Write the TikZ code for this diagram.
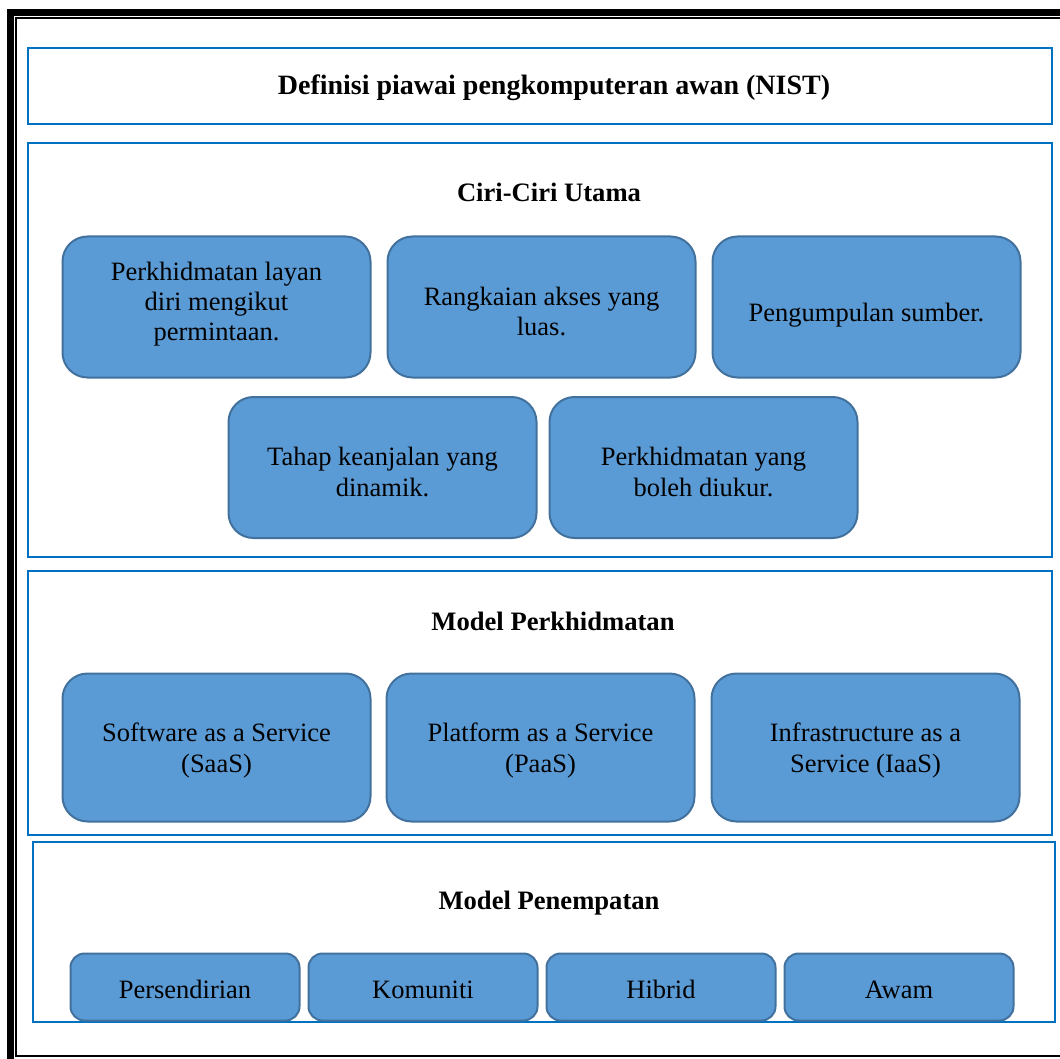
\documentclass[tikz,border=0pt]{standalone}
\usepackage{fontspec}
\setmainfont{Liberation Serif}
\usetikzlibrary{positioning}
\definecolor{frameBlue}{HTML}{0070C0}
\definecolor{boxFill}{HTML}{5B9BD5}
\definecolor{boxLine}{HTML}{41719C}

\begin{document}
\begin{tikzpicture}[x=1pt, y={(0pt,-1pt)}, font=\fontsize{26.5}{30.5}\selectfont ,
panel/.style={rectangle, draw=frameBlue, line width=2pt, minimum width=1024pt, inner sep=0pt} ,
heading/.style={font=\fontsize{26.6}{30.5}\selectfont\bfseries} ,
item/.style={rectangle, rounded corners=25pt, draw=boxLine, fill=boxFill, line width=2pt, minimum width=308pt, minimum height=141pt, align=center, inner sep=0pt, text depth=9pt, text height=37pt} ,
twoLines/.style={text height=66pt} ,
threeLines/.style={text height=77pt} ,
service/.style={item, minimum height=148pt, text height=58pt} ,
deploy/.style={item, rounded corners=14pt, minimum width=229pt, minimum height=67pt, text height=31pt}
]
\useasboundingbox (0,0) rectangle (1060,1059) ;
\clip (0,0) rectangle (1060,1059) ;

% page frame
\draw [line width=7pt] (1080,12.5) -- (10.5,12.5) -- (10.5,1080) ;
\draw [line width=2pt] (1080,18) -- (16,18) -- (16,1056) -- (1080,1056) ;

% title
\node (title-panel) [panel, minimum height=76pt] at (540,86) {} ;
\node (title) [heading, font=\fontsize{28}{32}\selectfont\bfseries] at (554,88) {Definisi piawai pengkomputeran awan (NIST)} ;

% ciri-ciri utama
\node (ciri-panel) [panel, minimum height=414pt] at (540,350) {} ;
\node (ciri) [heading] at (549,192) {Ciri-Ciri Utama} ;
\node (layan) [item, threeLines] at (216.5,307) {Perkhidmatan layan\\diri mengikut\\permintaan.} ;
\node (akses) [item, twoLines, right=15pt of layan] {Rangkaian akses yang\\luas.} ;
\node (sumber) [item, right=15pt of akses] {Pengumpulan sumber.} ;
\node (keanjalan) [item, twoLines] at (382.5,467.5) {Tahap keanjalan yang\\dinamik.} ;
\node (diukur) [item, twoLines, right=11pt of keanjalan] {Perkhidmatan yang\\boleh diukur.} ;

% model perkhidmatan
\node (model-panel) [panel, minimum height=264pt] at (540,703) {} ;
\node (model) [heading] at (553,621) {Model Perkhidmatan} ;
\node (saas) [service] at (216.5,747.5) {Software as a Service\\(SaaS)} ;
\node (paas) [service, right=14pt of saas] {Platform as a Service\\(PaaS)} ;
\node (iaas) [service, right=15pt of paas] {Infrastructure as a\\Service (IaaS)} ;

% model penempatan
\node (penempatan-panel) [panel, minimum width=1022pt, minimum height=180pt] at (544,932) {} ;
\node (penempatan) [heading] at (549,903) {Model Penempatan} ;
\node (persendirian) [deploy] at (185,987) {Persendirian} ;
\node (komuniti) [deploy, right=7pt of persendirian] {Komuniti} ;
\node (hibrid) [deploy, right=7pt of komuniti] {Hibrid} ;
\node (awam) [deploy, right=7pt of hibrid] {Awam} ;
\end{tikzpicture}
\end{document}
